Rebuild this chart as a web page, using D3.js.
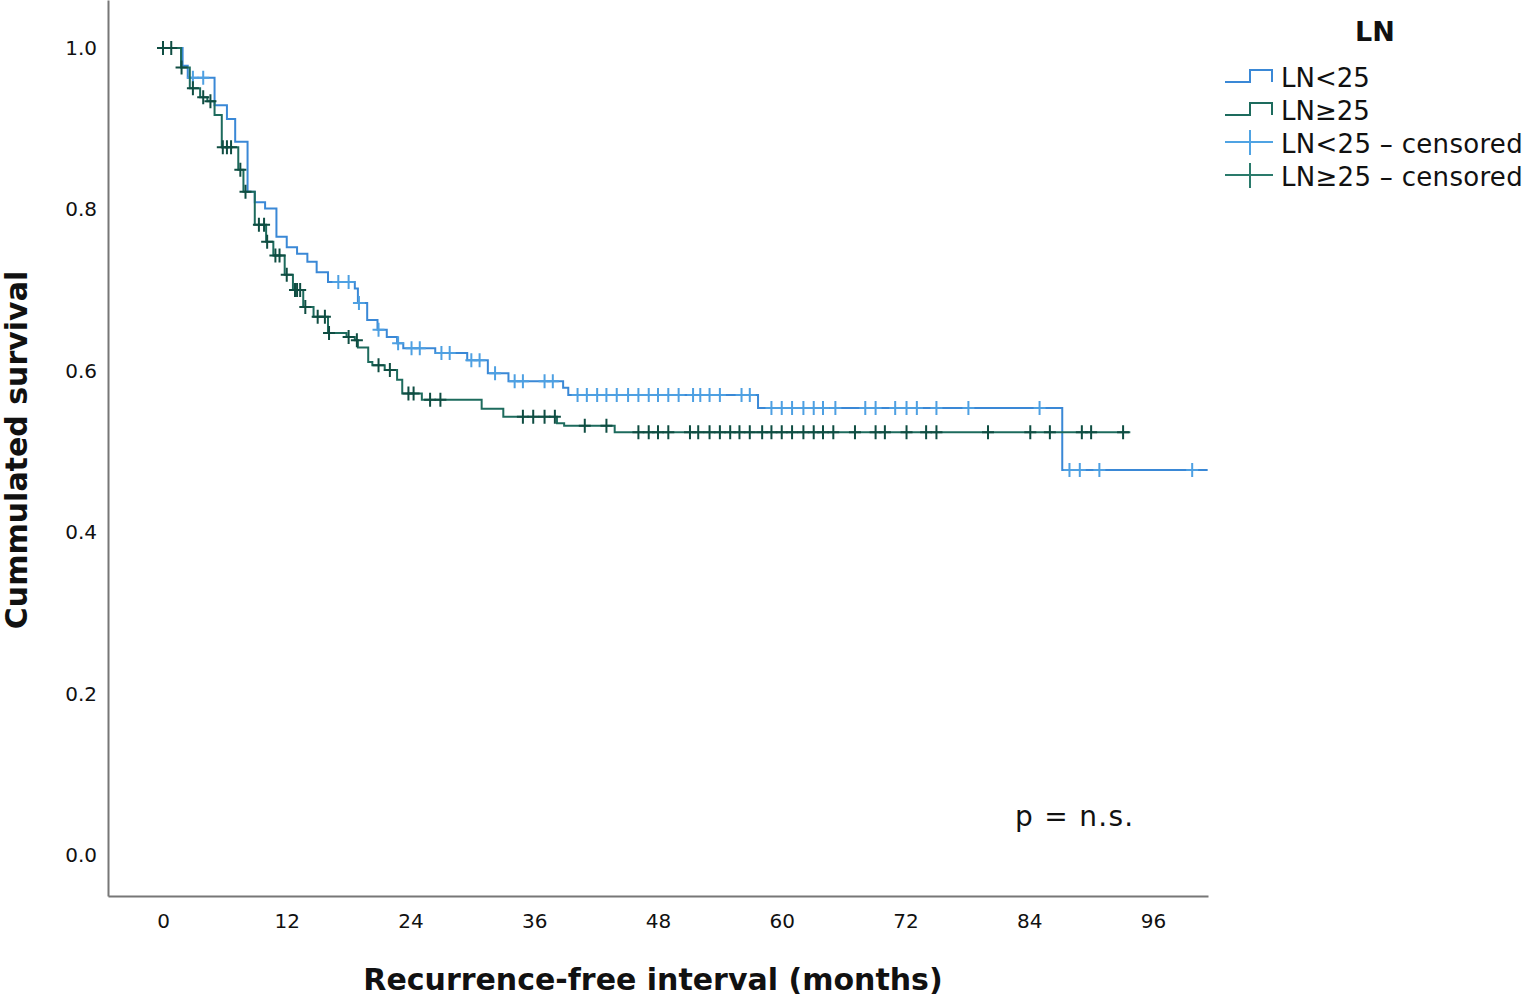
<!DOCTYPE html>
<html>
<head>
<meta charset="utf-8">
<script src="https://cdn.jsdelivr.net/npm/d3@7"></script>
<style>
  body { margin: 0; background: #fff; }
  text { font-family: "DejaVu Sans", sans-serif; fill: #111; }
</style>
</head>
<body>
<div id="chart"></div>
<script>
// ==== data (months, cumulative survival) ====
const lowEventTime = [1.9, 2.4, 5.0, 6.2, 7.0, 8.2, 8.9, 9.9, 11.0, 12.0, 13.0, 14.0, 14.9, 16.0, 18.6, 18.9, 19.8, 20.8, 21.7, 22.7, 23.3, 26.4, 29.5, 31.5, 33.5, 38.8, 39.3, 57.7, 87.2];
const lowEventSurv = [0.978, 0.963, 0.929, 0.912, 0.884, 0.822, 0.809, 0.801, 0.766, 0.753, 0.745, 0.735, 0.722, 0.710, 0.702, 0.684, 0.663, 0.651, 0.642, 0.634, 0.628, 0.622, 0.613, 0.597, 0.587, 0.579, 0.570, 0.554, 0.477];
const lowLastTime = 101.3;
const lowCensored = [2.9, 3.9, 17.0, 18.0, 19.0, 20.9, 22.8, 24.1, 24.9, 27.0, 27.8, 29.9, 30.7, 32.2, 34.1, 34.9, 37.0, 37.8, 40.2, 41.1, 42.1, 43.0, 44.0, 45.1, 46.1, 47.1, 48.0, 49.0, 50.0, 51.4, 52.1, 53.0, 54.0, 56.1, 56.9, 59.0, 60.0, 61.0, 62.1, 63.1, 64.0, 65.2, 68.1, 69.1, 71.0, 72.1, 73.1, 75.0, 78.1, 85.0, 87.9, 88.9, 90.8, 99.8];

const highEventTime = [1.75, 2.6, 3.6, 4.3, 5.0, 5.7, 7.3, 7.8, 8.9, 10.0, 10.7, 11.8, 12.6, 13.6, 14.6, 16.0, 17.8, 18.6, 18.9, 19.9, 20.3, 21.5, 22.7, 23.2, 25.1, 30.9, 33.0, 38.2, 38.9, 43.8];
const highEventSurv = [0.976, 0.950, 0.939, 0.934, 0.917, 0.877, 0.849, 0.822, 0.781, 0.760, 0.743, 0.719, 0.700, 0.679, 0.667, 0.647, 0.642, 0.638, 0.629, 0.611, 0.607, 0.601, 0.589, 0.572, 0.564, 0.553, 0.543, 0.535, 0.532, 0.524];
const highLastTime = 93.8;
const highCensored = [0.0, 0.8, 1.8, 2.9, 3.9, 4.6, 5.8, 6.2, 6.6, 7.5, 8.0, 9.3, 9.8, 10.1, 10.9, 11.3, 12.0, 12.8, 13.0, 13.3, 13.8, 15.0, 15.7, 16.1, 18.0, 18.8, 20.9, 22.0, 23.8, 24.3, 25.9, 26.9, 34.9, 35.9, 37.0, 38.0, 40.9, 43.0, 46.1, 47.1, 48.0, 49.0, 51.1, 51.9, 53.0, 54.0, 55.0, 55.9, 56.9, 58.1, 59.0, 60.0, 61.0, 62.1, 63.1, 64.0, 65.0, 67.1, 69.1, 70.0, 72.1, 74.0, 75.0, 80.0, 84.1, 86.0, 89.1, 90.0, 93.1];

const xTicks = [0, 12, 24, 36, 48, 60, 72, 84, 96];
const yTicks = [0, 0.2, 0.4, 0.6, 0.8, 1.0];
const legendLabels = ["LN<25", "LN\u226525", "LN<25 \u2013 censored", "LN\u226525 \u2013 censored"];

// ==== layout ====
const width = 1524, height = 998;
const lowColor = "#3a88d6", lowCross = "#4ea0e2";
const highColor = "#1d6b5d", highCross = "#0f4d42";

const svg = d3.select("#chart").append("svg")
    .attr("width", width)
    .attr("height", height);

const xScale = d3.scaleLinear().domain([-5.333, 101.333]).range([108, 1208]);
const yScale = d3.scaleLinear().domain([-0.0508, 1.0595]).range([896, 0]);

//=== axes ===
const xAxis = d3.axisBottom(xScale).tickValues(xTicks).tickSize(0).tickSizeOuter(0).tickPadding(18);
const yAxis = d3.axisLeft(yScale).tickValues(yTicks).tickSize(0).tickSizeOuter(0).tickPadding(11)
    .tickFormat(d3.format(".1f"));

const gx = svg.append("g").attr("transform", "translate(0,896)").call(xAxis);
const gy = svg.append("g").attr("transform", "translate(108,0)").call(yAxis);
[gx, gy].forEach(g => {
    g.select(".domain").attr("stroke", "#777").attr("stroke-width", 2);
    g.selectAll("text").attr("font-size", 20).attr("font-family", "DejaVu Sans").attr("fill", "#111");
});

//=== curves ===
function steps(times, surv, last) {
    const pts = [[0, 1]];
    times.forEach((t, i) => pts.push([t, surv[i]]));
    pts.push([last, surv[surv.length - 1]]);
    return pts;
}
function survAt(times, surv, t) {
    let s = 1;
    times.forEach((e, i) => { if (e <= t) s = surv[i]; });
    return s;
}

const line = d3.line()
    .x(d => xScale(d[0]))
    .y(d => yScale(d[1]))
    .curve(d3.curveStepAfter);

const groups = [
    { times: lowEventTime, surv: lowEventSurv, last: lowLastTime, cens: lowCensored, color: lowColor, cross: lowCross },
    { times: highEventTime, surv: highEventSurv, last: highLastTime, cens: highCensored, color: highColor, cross: highCross }
];

groups.forEach(g => {
    svg.append("path")
        .datum(steps(g.times, g.surv, g.last))
        .attr("fill", "none")
        .attr("stroke", g.color)
        .attr("stroke-width", 2)
        .attr("d", line);

    svg.append("g").selectAll("path")
        .data(g.cens)
        .join("path")
        .attr("transform", d => `translate(${xScale(d)},${yScale(survAt(g.times, g.surv, d))})`)
        .attr("d", "M-6,0H6M0,-7V7")
        .attr("stroke", g.cross)
        .attr("stroke-width", 2)
        .attr("fill", "none");
});

//=== titles ===
svg.append("text")
    .attr("x", 653).attr("y", 990)
    .attr("text-anchor", "middle")
    .attr("font-size", 30).attr("font-weight", "bold")
    .text("Recurrence-free interval (months)");

svg.append("text")
    .attr("transform", "translate(27,450) rotate(-90)")
    .attr("text-anchor", "middle")
    .attr("font-size", 30).attr("font-weight", "bold")
    .text("Cummulated survival");

svg.append("text")
    .attr("x", 1015).attr("y", 826)
    .attr("font-size", 28)
    .attr("letter-spacing", 1.3)
    .text("p = n.s.");

//=== legend ===
const legend = svg.append("g");
legend.append("text")
    .attr("x", 1375).attr("y", 41)
    .attr("text-anchor", "middle")
    .attr("font-size", 27).attr("font-weight", "bold")
    .text("LN");

const legendColors = [lowColor, highColor, "#4fa3e3", "#2a7a6b"];
const rows = legend.selectAll("g.row")
    .data(legendLabels)
    .join("g")
    .attr("class", "row")
    .attr("transform", (d, i) => `translate(1225,${78 + i * 33})`);

rows.append("path")
    .attr("d", (d, i) => i < 2 ? "M0,4H25V-8H47V4" : "M0,-2H48M25,-14V11")
    .attr("fill", "none")
    .attr("stroke", (d, i) => legendColors[i])
    .attr("stroke-width", 2);

rows.append("text")
    .attr("x", 56).attr("dy", "0.36em")
    .attr("font-size", 26)
    .attr("letter-spacing", (d, i) => i < 2 ? 0 : 0.3)
    .text(d => d);
</script>
</body>
</html>
